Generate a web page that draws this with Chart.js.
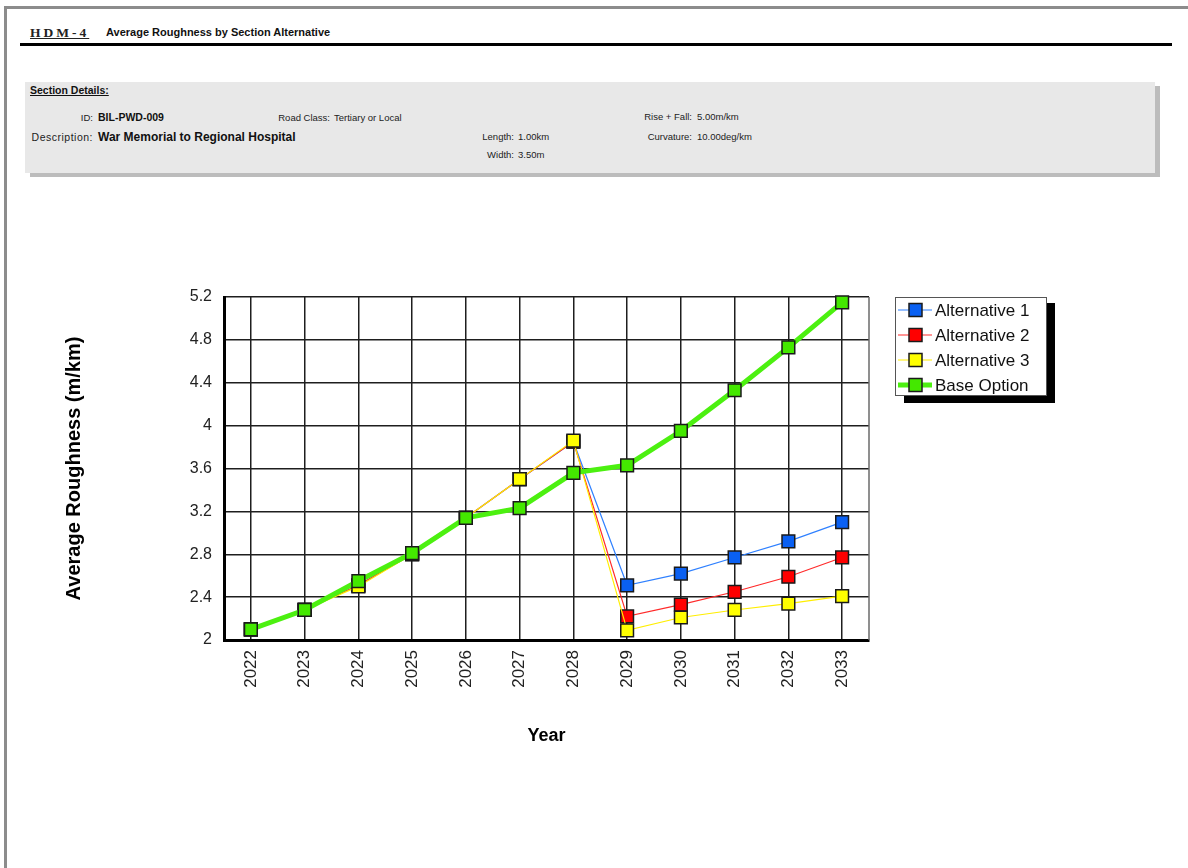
<!DOCTYPE html>
<html>
<head>
<meta charset="utf-8">
<title>HDM-4 Average Roughness by Section Alternative</title>
<script src="https://cdn.jsdelivr.net/npm/chart.js@4/dist/chart.umd.min.js"></script>
<style>
  html, body { margin: 0; padding: 0; background: #fff; }
  body { width: 1188px; height: 868px; position: relative; overflow: hidden;
         font-family: "Liberation Sans", Arial, sans-serif; color: #111; }
  .frame { position: absolute; left: 4px; top: 6px; width: 1250px; height: 900px;
           border-left: 3px solid #8c8c8c; border-top: 3px solid #8c8c8c; }
  .t { position: absolute; white-space: nowrap; line-height: 1; }
  .hdm { left: 30px; top: 26px; font-family: "Liberation Serif", "Times New Roman", serif;
         font-weight: bold; font-size: 13.5px; letter-spacing: 3px; text-decoration: underline; color: #222; }
  .head { left: 106px; top: 27px; font-weight: bold; font-size: 11px; }
  .rule { position: absolute; left: 20px; top: 43px; width: 1152px; height: 3px; background: #000; }
  .box { position: absolute; left: 25px; top: 82px; width: 1130px; height: 91px;
         background: #e8e8e8; box-shadow: 5px 4px 0 #bcbcbc; }
  .sd { left: 30px; top: 85px; font-weight: bold; font-size: 10.5px; text-decoration: underline; }
  .n { font-family: "Liberation Sans Narrow", "Arial Narrow", "Liberation Sans", sans-serif;
       font-size: 9.5px; color: #222; }
  .b10 { font-weight: bold; font-size: 10.5px; }
  .b12 { font-weight: bold; font-size: 12px; }
  #chart { position: absolute; left: 0; top: 0; }
</style>
</head>
<body>
<div class="frame"></div>

<div class="t hdm">HDM-4</div>
<div class="t head">Average Roughness by Section Alternative</div>
<div class="rule"></div>

<div class="box"></div>
<div class="t sd">Section Details:</div>
<div class="t n" style="right:1095px; top:113px;">ID:</div>
<div class="t b10" style="left:98px; top:112px;">BIL-PWD-009</div>
<div class="t n" style="right:858px; top:113px;">Road Class:</div>
<div class="t n" style="left:334px; top:113px;">Tertiary or Local</div>
<div class="t n" style="right:496px; top:112px;">Rise + Fall:</div>
<div class="t n" style="left:697px; top:112px;">5.00m/km</div>
<div class="t n" style="right:1095px; top:132px; font-size:10.5px; letter-spacing:0.5px;">Description:</div>
<div class="t b12" style="left:98px; top:131px;">War Memorial to Regional Hospital</div>
<div class="t n" style="right:674px; top:132px;">Length:</div>
<div class="t n" style="left:518px; top:132px;">1.00km</div>
<div class="t n" style="right:496px; top:132px;">Curvature:</div>
<div class="t n" style="left:697px; top:132px;">10.00deg/km</div>
<div class="t n" style="right:674px; top:150px;">Width:</div>
<div class="t n" style="left:518px; top:150px;">3.50m</div>

<canvas id="chart" width="1188" height="868"></canvas>

<script>
// Analysis years
const years = ['2022', '2023', '2024', '2025', '2026', '2027', '2028', '2029', '2030', '2031', '2032', '2033'];

// Average roughness (m/km) per alternative
const alternative1 = [2.10, 2.28, 2.51, 2.80, 3.14, 3.50, 3.85, 2.51, 2.62, 2.77, 2.92, 3.10];
const alternative2 = [2.10, 2.28, 2.51, 2.80, 3.14, 3.50, 3.85, 2.22, 2.33, 2.45, 2.59, 2.77];
const alternative3 = [2.10, 2.28, 2.50, 2.80, 3.14, 3.50, 3.86, 2.09, 2.21, 2.28, 2.34, 2.41];
const baseOption   = [2.10, 2.28, 2.55, 2.81, 3.14, 3.23, 3.56, 3.63, 3.95, 4.33, 4.73, 5.15];

// Y axis range and step
const yMin = 2.0;
const yMax = 5.2;
const yStep = 0.4;

const TEXT = '"Liberation Sans", Arial, sans-serif';

function series(label, data, line, fill, width, order) {
  return {
    label: label,
    data: data,
    borderColor: line,
    borderWidth: width,
    backgroundColor: fill,
    pointStyle: 'rect',
    pointRadius: 9,
    pointHoverRadius: 9,
    pointBackgroundColor: fill,
    pointBorderColor: '#1a1a1a',
    pointBorderWidth: 1.5,
    tension: 0,
    clip: false,
    order: order
  };
}

// Boxed legend with drop shadow, line-through-marker samples
const boxLegend = {
  id: 'boxLegend',
  afterDraw(chart) {
    const ctx = chart.ctx;
    const x0 = 895, y0 = 297, w = 151, h = 98;
    ctx.save();
    ctx.fillStyle = '#000';
    ctx.fillRect(x0 + 9, y0 + 6, w, h + 2);
    ctx.fillStyle = '#fff';
    ctx.fillRect(x0, y0, w, h);
    ctx.strokeStyle = '#555';
    ctx.lineWidth = 1;
    ctx.strokeRect(x0 + 0.5, y0 + 0.5, w, h);
    chart.data.datasets.forEach((ds, i) => {
      const cy = y0 + 13 + i * 25;
      ctx.strokeStyle = ds.borderColor;
      ctx.lineWidth = ds.borderWidth;
      ctx.beginPath();
      ctx.moveTo(x0 + 3, cy);
      ctx.lineTo(x0 + 37, cy);
      ctx.stroke();
      ctx.fillStyle = ds.pointBackgroundColor;
      ctx.fillRect(x0 + 14, cy - 6.5, 13, 13);
      ctx.strokeStyle = '#1a1a1a';
      ctx.lineWidth = 1.5;
      ctx.strokeRect(x0 + 14, cy - 6.5, 13, 13);
      ctx.fillStyle = '#111';
      ctx.font = '17px ' + TEXT;
      ctx.textBaseline = 'middle';
      ctx.textAlign = 'left';
      ctx.fillText(ds.label, x0 + 40, cy + 1);
    });
    ctx.restore();
  }
};

// Right edge of the plot frame
const plotFrame = {
  id: 'plotFrame',
  beforeDatasetsDraw(chart) {
    const { ctx, chartArea: a } = chart;
    ctx.save();
    ctx.strokeStyle = '#6a6a6a';
    ctx.lineWidth = 1.5;
    ctx.beginPath();
    ctx.moveTo(a.right, a.top);
    ctx.lineTo(a.right, a.bottom);
    ctx.stroke();
    ctx.restore();
  }
};

new Chart(document.getElementById('chart'), {
  type: 'line',
  data: {
    labels: years,
    datasets: [
      series('Alternative 1', alternative1, '#2f80ff', '#0a60f2', 1.2, 3),
      series('Alternative 2', alternative2, '#ff2a2a', '#ff0000', 1.2, 2),
      series('Alternative 3', alternative3, '#ffee00', '#ffff00', 1.2, 1),
      series('Base Option',  baseOption,   '#4cf010', '#44e800', 5, 0)
    ]
  },
  options: {
    responsive: false,
    animation: false,
    devicePixelRatio: 1,
    layout: { padding: { left: 0, top: 297, right: 319, bottom: 78 } },
    plugins: {
      legend: { display: false },
      tooltip: { enabled: false }
    },
    scales: {
      x: {
        type: 'category',
        offset: true,
        afterFit(scale) { scale.height = 150; },
        grid: { color: '#1e1e1e', lineWidth: 1.5, drawTicks: false, offset: false },
        border: { color: '#000', width: 3 },
        ticks: {
          color: '#222',
          font: { family: TEXT, size: 17 },
          minRotation: 90,
          maxRotation: 90,
          padding: 10,
          autoSkip: false
        },
        title: {
          display: true,
          text: 'Year',
          color: '#000',
          font: { family: TEXT, size: 18, weight: 'bold' },
          padding: { bottom: 43, top: 0 }
        }
      },
      y: {
        min: yMin,
        max: yMax,
        afterFit(scale) { scale.width = 224; },
        grid: { color: '#1e1e1e', lineWidth: 1.5, drawTicks: false },
        border: { color: '#000', width: 3 },
        ticks: {
          stepSize: yStep,
          color: '#222',
          font: { family: TEXT, size: 16 },
          padding: 12,
          callback: v => String(Number(v.toFixed(1)))
        },
        title: {
          display: true,
          text: 'Average Roughness (m/km)',
          color: '#000',
          font: { family: TEXT, size: 20, weight: 'bold' },
          padding: { top: 62, bottom: 0 }
        }
      }
    }
  },
  plugins: [plotFrame, boxLegend]
});
</script>
</body>
</html>
